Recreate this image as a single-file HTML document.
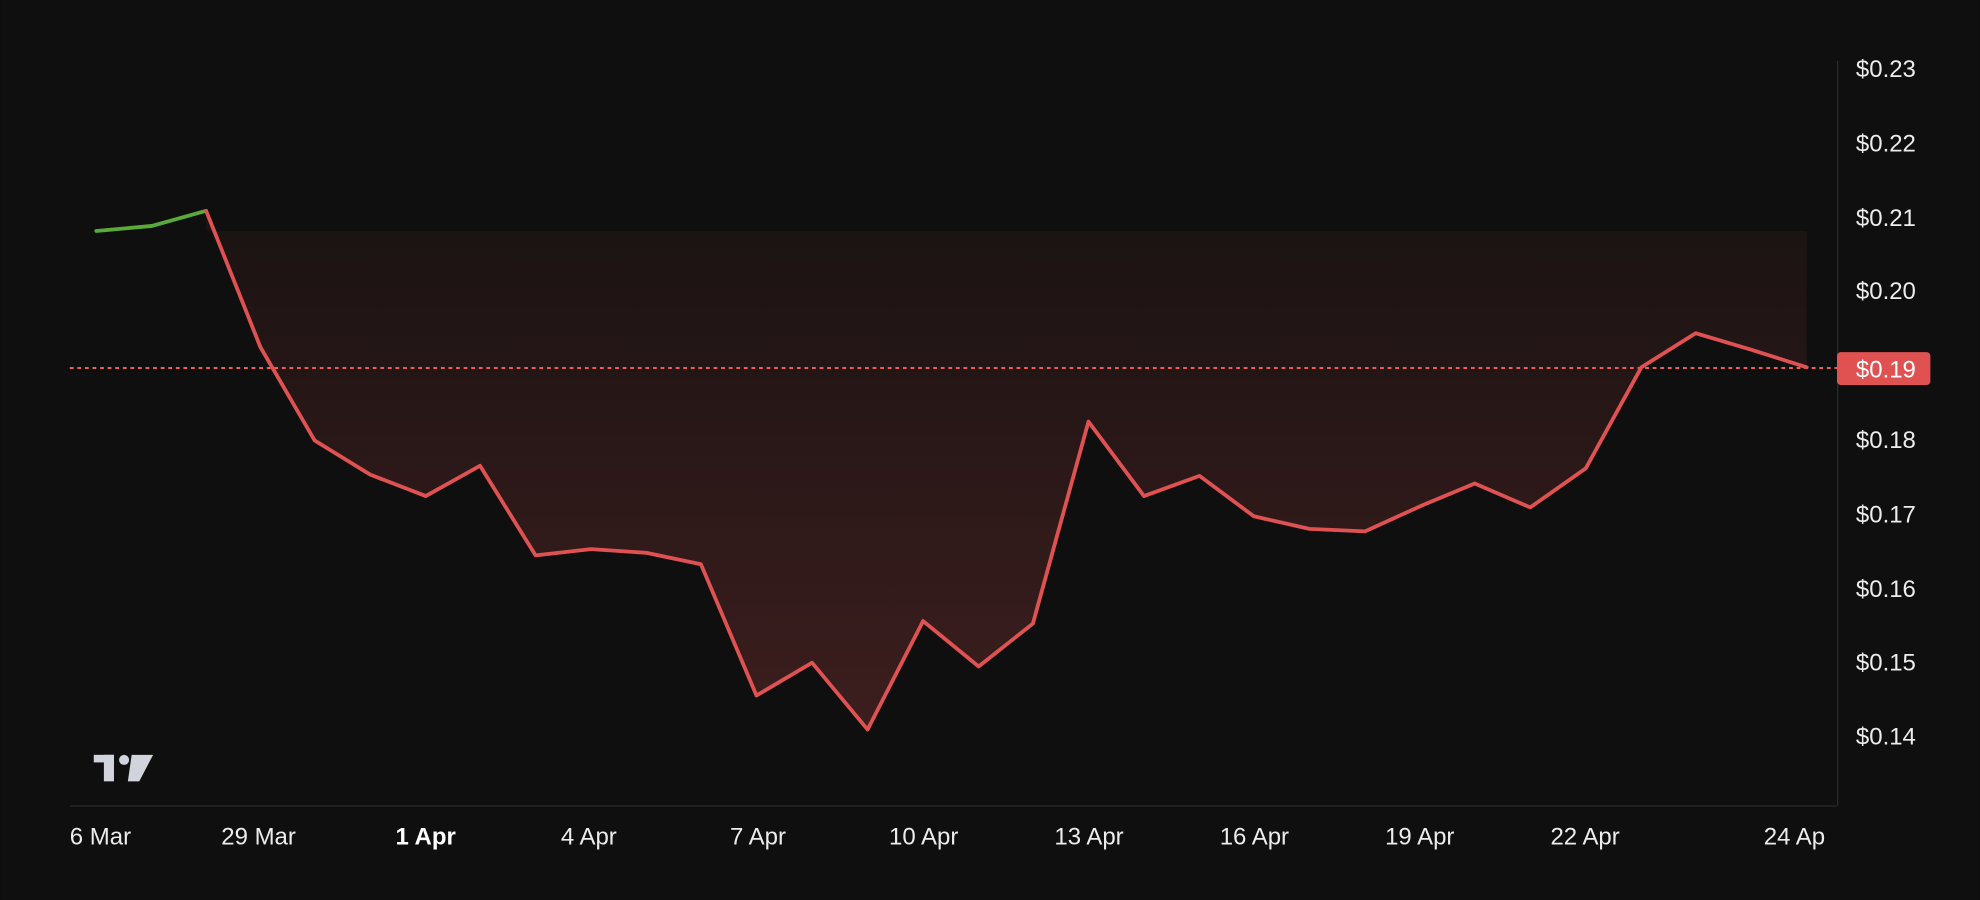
<!DOCTYPE html>
<html><head><meta charset="utf-8"><style>
html,body{margin:0;padding:0;background:#0f0f0f;}
svg{display:block;}
text{font-family:"Liberation Sans",sans-serif;fill:#ececec;}
</style></head><body>
<svg width="1980" height="900" viewBox="0 0 1568 713" xmlns="http://www.w3.org/2000/svg">
<defs>
<linearGradient id="g" x1="0" y1="183" x2="0" y2="580" gradientUnits="userSpaceOnUse">
<stop offset="0" stop-color="#e05252" stop-opacity="0.06"/>
<stop offset="1" stop-color="#e05252" stop-opacity="0.22"/>
</linearGradient>
</defs>
<rect width="1568" height="713" fill="#0f0f0f"/>
<path d="M163,183 L163,167 L206,275 L249,349 L293,376 L337,393 L380,369 L424,440 L468,435 L512,438 L555,447 L599,551 L643,525 L687,578 L731,492 L775,528 L818,494 L862,334 L906,393 L950,377 L993,409 L1037,419 L1081,421 L1125,401 L1168,383 L1212,402 L1256,371 L1300,291 L1343,264 L1387,277 L1431,291 L1431,183 Z" fill="url(#g)"/>
<line x1="55" y1="291.5" x2="1455" y2="291.5" stroke="#f05a5a" stroke-width="1.6" stroke-dasharray="3,3"/>
<line x1="55" y1="638.5" x2="1455" y2="638.5" stroke="#2a2a2a" stroke-width="1"/>
<line x1="1455.5" y1="48" x2="1455.5" y2="638" stroke="#2a2a2a" stroke-width="1"/>
<polyline points="76,183 120,179 163,167" fill="none" stroke="#5aaa3a" stroke-width="3" stroke-linejoin="round" stroke-linecap="round"/>
<polyline points="163,167 206,275 249,349 293,376 337,393 380,369 424,440 468,435 512,438 555,447 599,551 643,525 687,578 731,492 775,528 818,494 862,334 906,393 950,377 993,409 1037,419 1081,421 1125,401 1168,383 1212,402 1256,371 1300,291 1343,264 1387,277 1431,291" fill="none" stroke="#e05252" stroke-width="3" stroke-linejoin="round" stroke-linecap="round"/>
<g font-size="19">
<text x="1470" y="61">$0.23</text>
<text x="1470" y="120">$0.22</text>
<text x="1470" y="179">$0.21</text>
<text x="1470" y="237">$0.20</text>
<text x="1470" y="355">$0.18</text>
<text x="1470" y="414">$0.17</text>
<text x="1470" y="473">$0.16</text>
<text x="1470" y="531">$0.15</text>
<text x="1470" y="590">$0.14</text>
</g>
<rect x="1455" y="279" width="74" height="26" rx="3" fill="#e05252"/>
<text x="1470" y="299" font-size="19" style="fill:#fff">$0.19</text>
<g font-size="19">
<text x="55" y="669">6 Mar</text>
<text x="175" y="669">29 Mar</text>
<text x="313" y="669" font-weight="bold" style="fill:#fff">1 Apr</text>
<text x="444" y="669">4 Apr</text>
<text x="578" y="669">7 Apr</text>
<text x="704" y="669">10 Apr</text>
<text x="835" y="669">13 Apr</text>
<text x="966" y="669">16 Apr</text>
<text x="1097" y="669">19 Apr</text>
<text x="1228" y="669">22 Apr</text>
<text x="1397" y="669">24 Ap</text>
</g>
<g fill="#d1d4dc">
<rect x="74" y="598" width="16" height="6"/>
<rect x="82" y="598" width="8" height="21"/>
<circle cx="98" cy="602" r="4"/>
<polygon points="104,598 121,598 110,619 101,619"/>
</g>
</svg>
</body></html>
